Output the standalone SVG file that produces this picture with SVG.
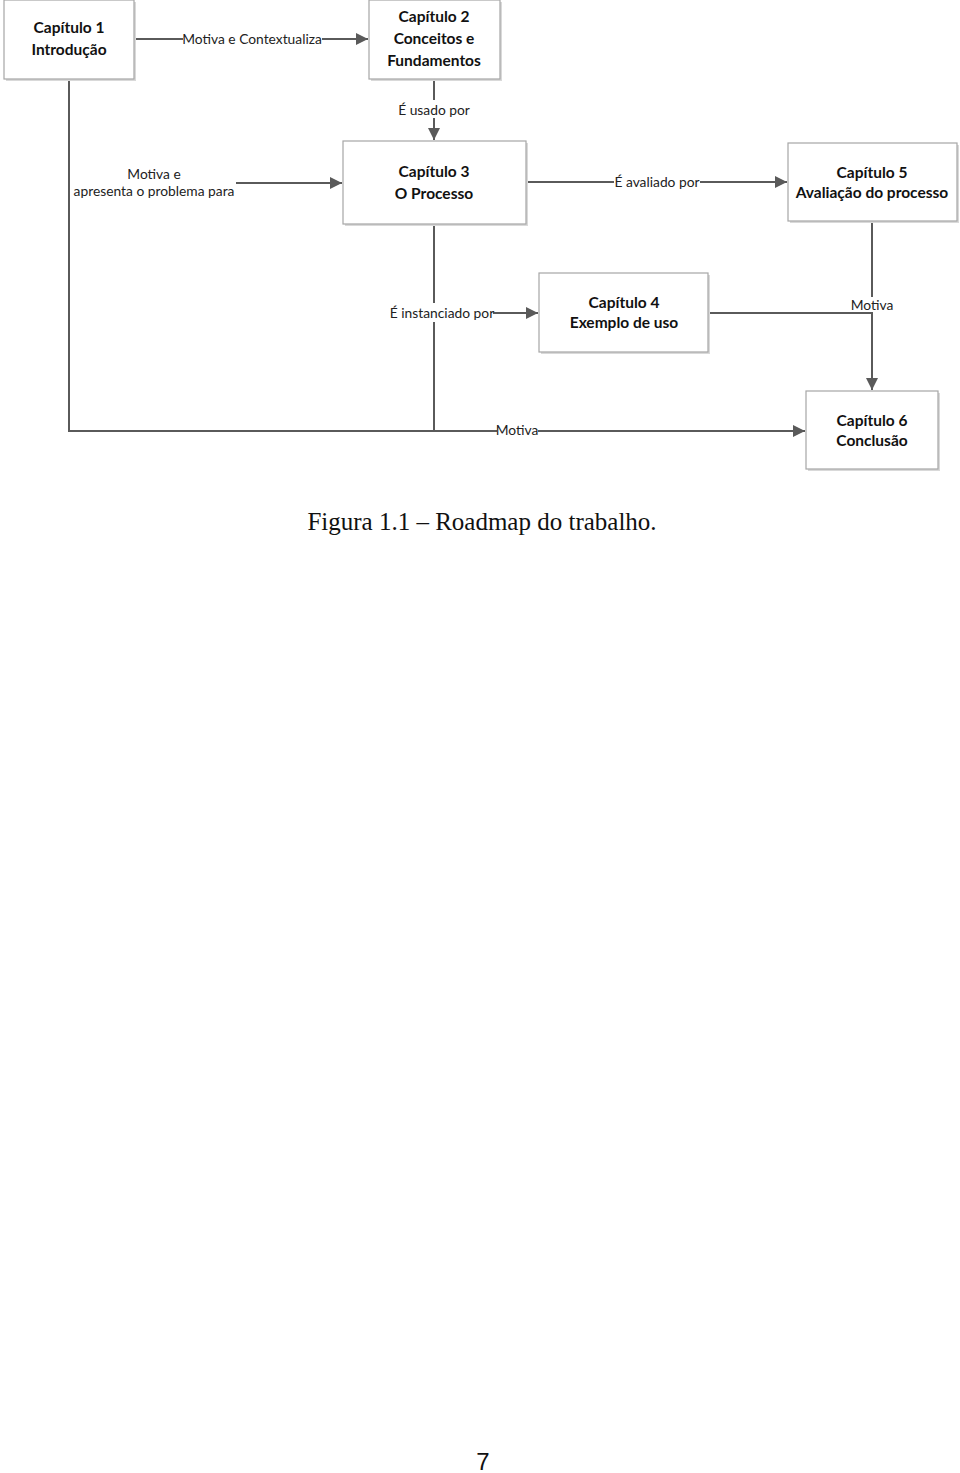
<svg xmlns="http://www.w3.org/2000/svg" width="960" height="1473" viewBox="0 0 960 1473">
<style>
.box{fill:#fff;stroke:#a6a6a6;stroke-width:1.2}
.sh{fill:#d9d9d9}
.t{font-family:Lato,"Open Sans",sans-serif;font-weight:bold;font-size:15.5px;fill:#111;text-anchor:middle}
.l{font-family:Lato,"Open Sans",sans-serif;font-size:13.8px;fill:#222;text-anchor:middle}
.c{fill:none;stroke:#5a5a5a;stroke-width:2}
.bg{fill:#fff}
</style>
<defs>
<marker id="a" viewBox="0 0 10 10" refX="10" refY="5" markerWidth="6" markerHeight="6" markerUnits="strokeWidth" orient="auto">
<path d="M0,0 L10,5 L0,10 z" fill="#5a5a5a"/>
</marker>
</defs>
<rect width="960" height="1473" fill="#fff"/>
<g id="connectors">
<path class="c" d="M134,39 H368" marker-end="url(#a)"/>
<path class="c" d="M434,79 V140" marker-end="url(#a)"/>
<path class="c" d="M69,79 V431 H805" marker-end="url(#a)"/>
<path class="c" d="M69,183 H342" marker-end="url(#a)"/>
<path class="c" d="M526,182 H787" marker-end="url(#a)"/>
<path class="c" d="M434,224 V431"/>
<path class="c" d="M434,313 H538" marker-end="url(#a)"/>
<path class="c" d="M872,221 V390" marker-end="url(#a)"/>
<rect class="bg" x="183" y="31" width="139" height="16"/>
<text class="l" x="252" y="44">Motiva e Contextualiza</text>
<rect class="bg" x="398" y="100" width="72" height="18"/>
<text class="l" x="434" y="115">É usado por</text>
<rect class="bg" x="70" y="166" width="166" height="34"/>
<text class="l" x="154" y="179">Motiva e</text>
<text class="l" x="154" y="196">apresenta o problema para</text>
<rect class="bg" x="614" y="173" width="86" height="17"/>
<text class="l" x="657" y="187">É avaliado por</text>
<rect class="bg" x="390" y="303" width="103" height="19"/>
<text class="l" x="442" y="318">É instanciado por</text>
<rect class="bg" x="850" y="297" width="44" height="15"/>
<text class="l" x="872" y="310">Motiva</text>
<path class="c" d="M708,313 H873"/>
<rect class="bg" x="497" y="423" width="41" height="15"/>
<text class="l" x="517" y="435">Motiva</text>
</g>
<g id="n1">
<rect class="sh" x="6" y="2" width="130" height="79"/>
<rect class="box" x="4" y="0" width="130" height="79"/>
<text class="t" x="69" y="33">Capítulo 1</text>
<text class="t" x="69" y="55">Introdução</text>
</g>
<g id="n2">
<rect class="sh" x="371" y="2" width="131" height="79"/>
<rect class="box" x="369" y="0" width="131" height="79"/>
<text class="t" x="434" y="22">Capítulo 2</text>
<text class="t" x="434" y="44">Conceitos e</text>
<text class="t" x="434" y="66">Fundamentos</text>
</g>
<g id="n3">
<rect class="sh" x="345" y="143" width="183" height="83"/>
<rect class="box" x="343" y="141" width="183" height="83"/>
<text class="t" x="434" y="177">Capítulo 3</text>
<text class="t" x="434" y="199">O Processo</text>
</g>
<g id="n5">
<rect class="sh" x="790" y="145" width="169" height="78"/>
<rect class="box" x="788" y="143" width="169" height="78"/>
<text class="t" x="872" y="178">Capítulo 5</text>
<text class="t" x="872" y="198">Avaliação do processo</text>
</g>
<g id="n4">
<rect class="sh" x="541" y="275" width="169" height="79"/>
<rect class="box" x="539" y="273" width="169" height="79"/>
<text class="t" x="624" y="308">Capítulo 4</text>
<text class="t" x="624" y="328">Exemplo de uso</text>
</g>
<g id="n6">
<rect class="sh" x="808" y="393" width="132" height="78"/>
<rect class="box" x="806" y="391" width="132" height="78"/>
<text class="t" x="872" y="426">Capítulo 6</text>
<text class="t" x="872" y="446">Conclusão</text>
</g>
<text x="482" y="530" font-family="Liberation Serif,serif" font-size="25" fill="#111" text-anchor="middle">Figura 1.1 – Roadmap do trabalho.</text>
<text x="483" y="1470" font-family="Liberation Sans,sans-serif" font-size="24" fill="#111" text-anchor="middle">7</text>
</svg>
